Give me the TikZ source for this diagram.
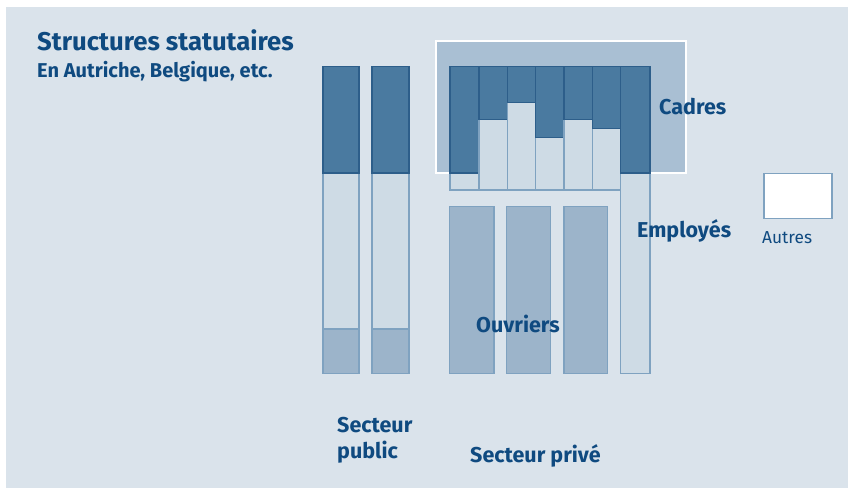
\documentclass[tikz,border=0pt]{standalone}
\usepackage{fontspec}
\setmainfont{Fira Sans}
\begin{document}
\begin{tikzpicture}[x=1pt,y=-1pt,
  txt/.style={text=textblue,font=\bfseries,inner sep=0pt},
  lbl/.style={txt,anchor=base west,font=\bfseries\fontsize{21.5}{23}\selectfont},
  darkbar/.style={fill=darkfill,draw=darkline,line width=1.3pt},
  lightbar/.style={fill=lightfill,draw=midline,line width=1.2pt},
  midbar/.style={fill=midfill,draw=midline,line width=1.2pt}]
\definecolor{bg}{HTML}{DAE3EB}
\definecolor{textblue}{HTML}{0F4A80}
\definecolor{darkfill}{HTML}{4A7AA0}
\definecolor{darkline}{HTML}{2D5E8A}
\definecolor{lightfill}{HTML}{CEDBE5}
\definecolor{midfill}{HTML}{9CB4CA}
\definecolor{midline}{HTML}{7FA2C0}
\definecolor{boxfill}{HTML}{A9BFD3}
\useasboundingbox (0,0) rectangle (848,488);
\fill[white] (0,0) rectangle (848,488);
\fill[bg] (6,7) rectangle (848,488);
% big box
\draw[fill=boxfill,draw=white,line width=2pt] (435.5,40.5) rectangle (685.5,172.5);
% public bars
\foreach \a/\b in {323/359,372/409}{
  \draw[midbar] (\a,329) rectangle (\b,373.5);
  \draw[lightbar] (\a,173) rectangle (\b,329);
  \draw[darkbar] (\a,66.5) rectangle (\b,173);
}
% private top columns
\foreach \a/\b/\d in {450/479/173, 479/507.3/119.3, 507.3/535.7/102.3, 535.7/564/137.7, 564/592.3/119.3, 592.3/620.7/128.3}{
  \draw[lightbar] (\a,\d) rectangle (\b,190);
  \draw[darkbar] (\a,66.7) rectangle (\b,\d);
}
\draw[lightbar] (620.7,173) rectangle (650,373.5);
\draw[darkbar] (620.7,66.7) rectangle (650,173);
% ouvriers bars
\foreach \a/\b in {449.5/494,506.7/550.7,564/607.3}{
  \draw[midbar] (\a,206.7) rectangle (\b,373.5);
}
% autres box
\draw[fill=white,draw=midline,line width=1.2pt] (764,173.5) rectangle (832,218.3);
% texts
\node[txt,anchor=base west,font=\bfseries\fontsize{25.7}{27}\selectfont] (title) at (37,50) {Structures statutaires};
\node[txt,anchor=base west,font=\bfseries\fontsize{20}{22}\selectfont] (sub) at (37,77.3) {En Autriche, Belgique, etc.};
\node[lbl] (cadres) at (659,114) {Cadres};
\node[lbl] (employes) at (637,237.3) {Employés};
\node[txt,anchor=base west,font=\fontsize{17.3}{19}\selectfont] (autres) at (762,243.5) {Autres};
\node[lbl] (ouvriers) at (476,332.7) {Ouvriers};
\node[lbl] (public) at (337,432.3) {Secteur};
\node[lbl] (public2) at (337,458) {public};
\node[lbl] (prive) at (470,462) {Secteur privé};
\end{tikzpicture}
\end{document}
